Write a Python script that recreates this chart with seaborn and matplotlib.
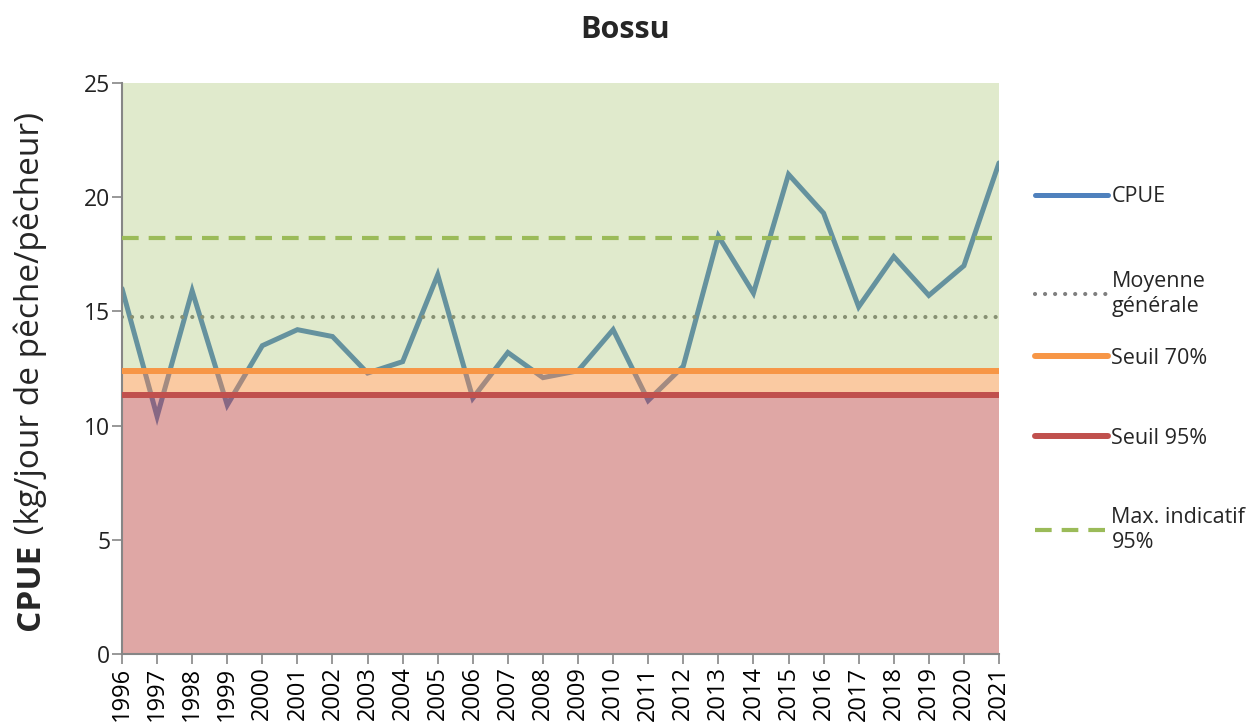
import matplotlib
matplotlib.use("Agg")
import matplotlib.pyplot as plt
from matplotlib.lines import Line2D
import seaborn as sns
import pandas as pd

years = list(range(1996, 2022))
cpue = [16.0, 10.4, 15.9, 10.9, 13.5, 14.2, 13.9, 12.3, 12.8, 16.6,
        11.2, 13.2, 12.1, 12.4, 14.2, 11.1, 12.6, 18.3, 15.8, 21.0,
        19.3, 15.2, 17.4, 15.7, 17.0, 21.5]
moyenne = 14.77
seuil70 = 12.39
seuil95 = 11.34
max95 = 18.2

title = "Bossu"
labels = ["CPUE", "Moyenne\ngénérale", "Seuil 70%", "Seuil 95%", "Max. indicatif\n95%"]

c_blue = "#4F81BD"
c_green = "#9BBB59"
c_orange = "#F79646"
c_red = "#C0504D"
c_gray = "#7F7F7F"
c_axis = "#868686"

sns.set_theme(style="white")
plt.rcParams["font.family"] = ["Open Sans", "DejaVu Sans"]

df = pd.DataFrame({"year": years, "cpue": cpue})

fig = plt.figure(figsize=(12.59, 7.26), dpi=100)
ax = fig.add_axes([122 / 1259, 1 - 654 / 726, (999 - 122) / 1259, (654 - 83) / 726])

sns.lineplot(data=df, x="year", y="cpue", ax=ax, color=c_blue, linewidth=3.6,
             solid_joinstyle="miter", zorder=1, legend=False)
ax.axhline(moyenne, color=c_gray, linewidth=3, linestyle=(0, (0.01, 2.4)),
           dash_capstyle="round", solid_capstyle="round", zorder=1)

# coloured zones drawn over the line (semi-transparent)
ax.axhspan(0, seuil95, color=c_red, alpha=0.5, linewidth=0, zorder=2)
ax.axhspan(seuil95, seuil70, color=c_orange, alpha=0.5, linewidth=0, zorder=2)
ax.axhspan(seuil70, 25, color=c_green, alpha=0.3, linewidth=0, zorder=2)

ax.axhline(seuil70, color=c_orange, linewidth=4.3, zorder=3)
ax.axhline(seuil95, color=c_red, linewidth=4.3, zorder=3)
ax.axhline(max95, color=c_green, linewidth=3, linestyle=(0, (4, 2.4)), zorder=3)

ax.set_xlim(years[0], years[-1])
ax.set_ylim(0, 25)
ax.set_xticks(years)
ax.set_xticklabels([str(y) for y in years], rotation=90, fontsize=17, color="black")
ax.set_yticks([0, 5, 10, 15, 20, 25])
ax.set_yticklabels(["0", "5", "10", "15", "20", "25"], fontsize=16.5, color="#222222")
ax.set_xlabel("")
ax.set_ylabel("")
for s in ["top", "right"]:
    ax.spines[s].set_visible(False)
for s in ["left", "bottom"]:
    ax.spines[s].set_color(c_axis)
    ax.spines[s].set_linewidth(1.5)
ax.tick_params(axis="y", direction="out", length=7, width=1.2, color=c_axis, left=True, pad=1.5)
ax.tick_params(axis="x", direction="out", length=7, width=1.2, color=c_axis, bottom=True, pad=2)

fig.text(625 / 1259, 1 - 30 / 726, title, ha="center", va="center",
         fontsize=22, fontweight="bold")

# legend (one entry per block, Excel-like irregular spacing)
handles = [
    Line2D([0], [0], color=c_blue, linewidth=3.6, solid_capstyle="round"),
    Line2D([0], [0], color=c_gray, linewidth=3, linestyle=(0, (0.01, 2.4)), dash_capstyle="round"),
    Line2D([0], [0], color=c_orange, linewidth=4.3, solid_capstyle="round"),
    Line2D([0], [0], color=c_red, linewidth=4.3, solid_capstyle="round"),
    Line2D([0], [0], color=c_green, linewidth=3, linestyle=(0, (4, 2.4))),
]
entry_y = [197, 294, 358, 438, 530]
for h, lab, yy in zip(handles, labels, entry_y):
    fig.legend([h], [lab], loc="center left", bbox_to_anchor=(1035 / 1259, 1 - yy / 726),
               frameon=False, fontsize=15.5, handlelength=3.4, handletextpad=0.15,
               borderpad=0, borderaxespad=0)

# y label with bold "CPUE"
fig.canvas.draw()
r = fig.canvas.get_renderer()
t1 = fig.text(0, 0, "CPUE", rotation=90, rotation_mode="anchor", ha="left",
              va="baseline", fontsize=24, fontweight="bold")
t2 = fig.text(0, 0, " (kg/jour de pêche/pêcheur)", rotation=90, rotation_mode="anchor",
              ha="left", va="baseline", fontsize=24)
h1 = t1.get_window_extent(r).height
h2 = t2.get_window_extent(r).height
H = fig.bbox.height
W = fig.bbox.width
x_base = 39
y_center = H - 371
y0 = y_center - (h1 + h2) / 2
t1.set_position((x_base / W, y0 / H))
t2.set_position((x_base / W, (y0 + h1) / H))

fig.savefig("out.png", dpi=100)
